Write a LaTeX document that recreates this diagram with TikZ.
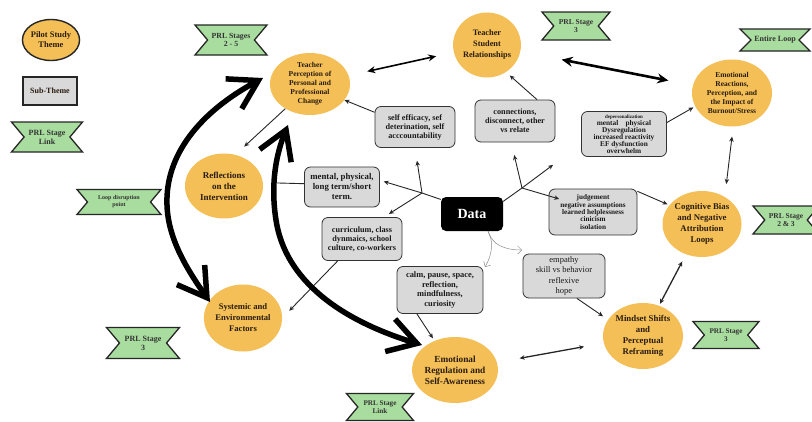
\documentclass[tikz,border=0pt]{standalone}
\usepackage{fontspec}
\setmainfont{Liberation Serif}
\usetikzlibrary{shapes.geometric,shapes.symbols,arrows.meta,calc}
\definecolor{themeorange}{HTML}{F3BF56}
\definecolor{subgray}{HTML}{D9D9D9}
\definecolor{bannergreen}{HTML}{A9DD9F}
\definecolor{inkc}{HTML}{2A1C10}
\newcommand\fsz[2]{\fontsize{#1}{#2}\selectfont}
\begin{document}
\begin{tikzpicture}[x=1pt,y=-1pt,
 theme/.style={ellipse, fill=themeorange, inner sep=0pt, align=center, text=inkc, font=\bfseries\fsz{8}{10}},
 sub/.style={rectangle, rounded corners=6pt, draw=black!80, line width=0.8pt, fill=subgray, align=center, inner sep=1pt, text=black!90, font=\bfseries\fsz{8.2}{9}},
 banner/.style={signal, signal to=nowhere, signal from=west and east, signal pointer angle=100, draw=black!85, line width=1.3pt, fill=bannergreen, align=center, inner sep=0pt, text=black!80, font=\bfseries\fsz{7.3}{8}},
 conn/.style={-{Stealth[length=5pt,width=4.5pt]}, line width=0.9pt, draw=black!85},
 dconn/.style={{Stealth[length=5pt,width=4.5pt]}-{Stealth[length=5pt,width=4.5pt]}, line width=0.9pt, draw=black!85},
 big/.style={line width=5.5pt, {Straight Barb[length=28pt,width=34pt]}-{Straight Barb[length=28pt,width=34pt]}},
 faint/.style={-{Straight Barb[length=4pt,width=8pt]}, line width=0.5pt, draw=black!45}]
\fill[white] (0,0) rectangle (812,421);
\useasboundingbox (0,0) rectangle (812,421);

% legend
\node[theme, draw=black!85, line width=1.4pt, minimum width=57pt, minimum height=41pt, font=\bfseries\fsz{8.5}{10}] (legtheme) at (51,40) {Pilot Study\\Theme};
\node[rectangle, draw=black!85, line width=1.4pt, fill=subgray, minimum width=54pt, minimum height=28pt, font=\bfseries\fsz{8}{9}, text=inkc] (legsub) at (50,91) {Sub-Theme};
\node[banner, minimum width=71pt, minimum height=30pt, font=\bfseries\fsz{8}{9}] (leglink) at (47,137) {PRL Stage\\Link};

% banners
\node[banner, minimum width=72pt, minimum height=30pt, font=\bfseries\fsz{7.8}{8.5}] (b25) at (231,40) {PRL Stages\\2 - 5};
\node[banner, minimum width=68pt, minimum height=28pt, font=\bfseries\fsz{7.5}{8}] (b3top) at (576,26) {PRL Stage\\3};
\node[banner, minimum width=70pt, minimum height=22pt, signal pointer angle=90, font=\bfseries\fsz{8}{9}] (bloop) at (775,40) {Entire Loop};
\node[banner, minimum width=84pt, minimum height=25pt, font=\bfseries\fsz{6}{7}] (bdis) at (119,202) {Loop disruption\\point};
\node[banner, minimum width=73pt, minimum height=31pt, font=\bfseries\fsz{8}{9}] (b3left) at (143,343) {PRL Stage\\3};
\node[banner, minimum width=66pt, minimum height=28pt, font=\bfseries\fsz{7.5}{8}] (b23) at (786,220) {PRL Stage\\2 \& 3};
\node[banner, minimum width=66pt, minimum height=27pt, font=\bfseries\fsz{7.2}{8}] (b3right) at (726,335) {PRL Stage\\3};
\node[banner, minimum width=67pt, minimum height=27pt, font=\bfseries\fsz{7.2}{8}] (blink) at (380,407) {PRL Stage\\Link};

% themes
\node[theme, minimum width=80pt, minimum height=62pt, font=\bfseries\fsz{7.5}{9}] (tpp) at (310,84) {Teacher\\Perception of\\Personal and\\Professional\\Change};
\node[theme, minimum width=64pt, minimum height=65pt, font=\bfseries\fsz{8.3}{11}] (tsr) at (487,45) {Teacher\\Student\\Relationships};
\node[theme, minimum width=80pt, minimum height=67pt, font=\bfseries\fsz{7.5}{9}] (era) at (732,93) {Emotional\\Reactions,\\Perception, and\\the Impact of\\Burnout/Stress};
\node[theme, minimum width=78pt, minimum height=65pt, font=\bfseries\fsz{9}{11}] (ref) at (224,186) {Reflections\\on the\\Intervention};
\node[theme, minimum width=78pt, minimum height=67pt, font=\bfseries\fsz{8.6}{11}] (sys) at (243,318) {Systemic and\\Environmental\\Factors};
\node[theme, minimum width=80pt, minimum height=66pt, font=\bfseries\fsz{9.3}{11}] (erg) at (455,370) {Emotional\\Regulation and\\Self-Awareness};
\node[theme, minimum width=79pt, minimum height=66pt, font=\bfseries\fsz{8.8}{10.8}] (cb) at (702,224) {Cognitive Bias\\and Negative\\Attribution\\Loops};
\node[theme, minimum width=80pt, minimum height=66pt, font=\bfseries\fsz{8.8}{10.8}] (ms) at (643,336) {Mindset Shifts\\and\\Perceptual\\Reframing};

% sub-themes
\node[sub, minimum width=80pt, minimum height=41pt] (se) at (415,127) {self efficacy, sef\\deterination, self\\acccountability};
\node[sub, minimum width=80pt, minimum height=42pt] (cn) at (515,121) {connections,\\disconnect, other\\vs relate};
\node[sub, minimum width=85pt, minimum height=45pt, font=\bfseries\fsz{7.3}{7}] (dp) at (624,134) {{\fsz{5}{5}depersonalization}\\mental\quad physical\\Dysregulation\\increased reactivity\\EF dysfunction\\overwhelm};
\node[sub, minimum width=75pt, minimum height=40pt, font=\bfseries\fsz{8.8}{10}] (mt) at (342,187) {mental, physical,\\long term/short\\term.};
\node[sub, minimum width=80pt, minimum height=43pt] (cu) at (362,239) {curriculum, class\\dynmaics, school\\culture, co-workers};
\node[sub, minimum width=88pt, minimum height=46pt, font=\bfseries\fsz{7.2}{7.4}] (jd) at (593,212) {judgement\\negative assumptions\\learned helplessness\\cinicism\\isolation};
\node[sub, minimum width=82pt, minimum height=44pt, font=\fsz{8.5}{10.3}] (em) at (564,276) {empathy\\skill vs behavior\\reflexive\\hope};
\node[sub, minimum width=86pt, minimum height=47pt, font=\bfseries\fsz{8.4}{9.6}] (cm) at (440,290) {calm, pause, space,\\reflection,\\mindfulness,\\curiosity};

% data
\node[rectangle, rounded corners=5pt, fill=black, minimum width=62pt, minimum height=34pt, text=white, font=\bfseries\fsz{14}{16}] (data) at (472,214) {Data};

% connectors between themes
\draw[{Stealth[length=8pt,width=7pt]}-{Stealth[length=8pt,width=7pt]}, line width=1.6pt, shorten <=19pt, shorten >=18pt] (tpp) -- (tsr);
\draw[{Stealth[length=11pt,width=10pt]}-{Stealth[length=11pt,width=10pt]}, line width=2.6pt, shorten <=42pt, shorten >=25pt] (tsr) -- (era);
\draw[conn] (se.160) -- (tpp.-25);
\draw[conn, shorten >=5pt] ($(cn.north)+(22,0)$) -- (tsr.-55);
\draw[conn, shorten >=2pt] (dp.15) -- (era.200);
\draw[dconn, shorten <=10pt, shorten >=13pt] (era.-88) -- (cb.50);
\draw[conn, shorten >=2pt] (jd.25) -- (cb.150);
\draw[dconn, line width=1.3pt, shorten <=8pt, shorten >=2pt] (cb) -- (ms);
\draw[conn, shorten >=6pt] (em.-60) -- (ms.155);
\draw[dconn, line width=1.3pt, shorten <=23pt, shorten >=20pt] (erg) -- (ms);
\draw[conn, shorten >=3pt] (cm.-134) -- (erg.125);
\draw[conn, shorten >=10pt] (cu.-138) -- (sys.0);
\draw[line width=0.9pt, black!85, shorten >=14pt] (mt.175) -- (ref.5);
\draw[conn, shorten >=12pt] (tpp.-135) -- (ref.70);

% data branches
\coordinate (fl) at (422,193);
\coordinate (fr) at (522,188);
\draw[line width=0.9pt, black!85] (data.155) -- (fl);
\draw[conn, shorten >=4pt] (fl) -- (mt.10);
\draw[conn, shorten >=13pt] (fl) -- (se.south);
\draw[conn, shorten >=6pt] (fl) -- (cu.45);
\draw[line width=0.9pt, black!85] (data.22) -- (fr);
\draw[conn, shorten >=13pt] (fr) -- (cn.-100);
\draw[conn, shorten >=35pt] (fr) -- (dp.-167);
\draw[conn, shorten >=-11pt] (fr) -- (jd.160);

\coordinate (g1) at (485,267);
\coordinate (g2) at (522,250);
\draw[faint] (data.-47) .. controls (494,242) and (492,255) .. (g1);
\draw[faint] (data.-47) .. controls (492,245) and (505,250) .. (g2);

% big loop arrows
\coordinate (a1) at (210,302);
\coordinate (am) at (167,205);
\coordinate (a2) at (263,78);
\draw[big] (a1) .. controls (186,268) and (168,238) .. (am) .. controls (165,155) and (200,112) .. (a2);
\coordinate (b1) at (422,345);
\coordinate (bm) at (276,220);
\coordinate (b2) at (288,125);
\draw[big] (b1) .. controls (340,320) and (285,280) .. (bm) .. controls (270,182) and (277,152) .. (b2);
\end{tikzpicture}
\end{document}
